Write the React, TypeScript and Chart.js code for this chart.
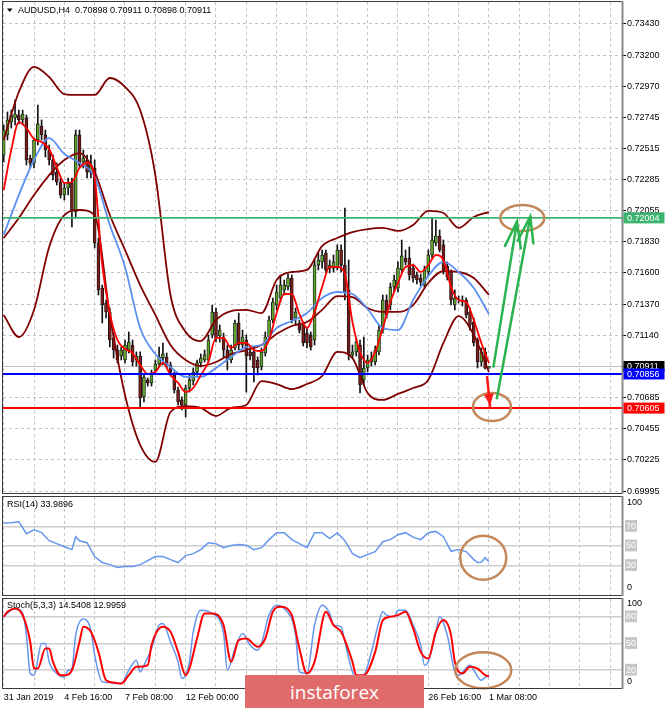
import React, { useEffect, useRef } from "react";
import { Chart, registerables } from "chart.js";

Chart.register(...registerables);

const FONT = '"Liberation Sans", Arial, sans-serif';
const SYMBOL = "AUDUSD";
const TIMEFRAME = "H4";

// ---------- candles (H4 bars from 31 Jan 2019 00:00) ----------
const opens = [
  0.72466, 0.72614, 0.72709, 0.72739, 0.72761, 0.72724, 0.72739, 0.72444, 0.72408, 0.72577,
  0.7268, 0.72614, 0.72503, 0.7243, 0.72341, 0.72268, 0.72172, 0.72224, 0.72261, 0.72047,
  0.72614, 0.72415, 0.7243, 0.72341, 0.72371, 0.71819, 0.71488, 0.71378, 0.71312, 0.71121,
  0.71032, 0.70988, 0.70959, 0.71032, 0.71069, 0.70959, 0.70988, 0.70687, 0.70812, 0.7079,
  0.70885, 0.70929, 0.70973, 0.70981, 0.70922, 0.70848, 0.70738, 0.70665, 0.70628, 0.70753,
  0.70804, 0.7087, 0.70937, 0.70959, 0.70959, 0.71143, 0.71312, 0.71135, 0.71128, 0.71032,
  0.70959, 0.71047, 0.71231, 0.71069, 0.71106, 0.71018, 0.71018, 0.70959, 0.70907, 0.7101,
  0.71128, 0.71253, 0.71363, 0.71415, 0.71474, 0.71496, 0.71562, 0.71268, 0.71231, 0.71216,
  0.71157, 0.71143, 0.71106, 0.71657, 0.7168, 0.71746, 0.71635, 0.71635, 0.71635, 0.71768,
  0.71657, 0.71474, 0.70996, 0.71018, 0.71069, 0.70812, 0.709, 0.70944, 0.70944, 0.71018,
  0.71179, 0.714, 0.71363, 0.71496, 0.71488, 0.71621, 0.71709, 0.71709, 0.71635, 0.71584,
  0.71562, 0.7151, 0.71606, 0.71731, 0.71819, 0.71871, 0.71805, 0.7165, 0.71606, 0.71363,
  0.714, 0.714, 0.714, 0.71312, 0.71238, 0.71106, 0.70944, 0.71018, 0.70898,
];
const highs = [
  0.72687, 0.72783, 0.72797, 0.72871, 0.72797, 0.72797, 0.72761, 0.72466, 0.72591, 0.72834,
  0.72724, 0.7265, 0.7254, 0.72466, 0.72408, 0.72297, 0.72261, 0.72297, 0.72297, 0.7265,
  0.7265, 0.72503, 0.72466, 0.72466, 0.7243, 0.71856, 0.7151, 0.714, 0.71341, 0.71157,
  0.71069, 0.71054, 0.71106, 0.71165, 0.71106, 0.71018, 0.71018, 0.70848, 0.70826, 0.70885,
  0.70959, 0.71054, 0.71084, 0.7101, 0.70944, 0.7087, 0.7076, 0.70687, 0.70775, 0.70848,
  0.709, 0.70959, 0.71003, 0.71032, 0.71143, 0.71363, 0.71341, 0.71216, 0.71157, 0.71069,
  0.71069, 0.71253, 0.71304, 0.71179, 0.71143, 0.71047, 0.71047, 0.70981, 0.71047, 0.71165,
  0.71282, 0.71415, 0.7151, 0.71584, 0.71547, 0.71591, 0.71584, 0.71341, 0.71253, 0.71238,
  0.71194, 0.71165, 0.71694, 0.71746, 0.71768, 0.71768, 0.71694, 0.71731, 0.71805, 0.71805,
  0.72077, 0.71694, 0.71069, 0.71121, 0.71106, 0.71128, 0.70996, 0.71018, 0.71062, 0.71216,
  0.71437, 0.71437, 0.71525, 0.71584, 0.7168, 0.71841, 0.71768, 0.7179, 0.71665, 0.71606,
  0.71591, 0.7165, 0.71768, 0.72003, 0.71988, 0.71915, 0.71841, 0.7168, 0.71621, 0.71474,
  0.7143, 0.7143, 0.71415, 0.71341, 0.71268, 0.71121, 0.71047, 0.71047, 0.70911,
];
const lows = [
  0.72415, 0.72577, 0.72665, 0.72687, 0.72695, 0.72695, 0.72393, 0.72371, 0.72371, 0.7254,
  0.72577, 0.72452, 0.72393, 0.72283, 0.72246, 0.7215, 0.72135, 0.72172, 0.71937, 0.72003,
  0.72371, 0.72371, 0.72297, 0.72297, 0.71783, 0.71437, 0.71231, 0.71268, 0.71054, 0.70973,
  0.70937, 0.70959, 0.70937, 0.7101, 0.70915, 0.70915, 0.70613, 0.7065, 0.70767, 0.70767,
  0.7087, 0.70907, 0.70922, 0.709, 0.70841, 0.70716, 0.70628, 0.70591, 0.7054, 0.70723,
  0.70775, 0.70848, 0.70907, 0.70944, 0.70944, 0.71121, 0.71091, 0.71091, 0.70981, 0.70885,
  0.70937, 0.71032, 0.71032, 0.71047, 0.70723, 0.70959, 0.70797, 0.70848, 0.70885, 0.70988,
  0.71106, 0.71231, 0.71327, 0.71385, 0.71437, 0.71474, 0.71231, 0.71216, 0.71157, 0.71062,
  0.71047, 0.71032, 0.71069, 0.71621, 0.71635, 0.71599, 0.71599, 0.71606, 0.71621, 0.71606,
  0.714, 0.70959, 0.70973, 0.70988, 0.70716, 0.70775, 0.7087, 0.70915, 0.70922, 0.70996,
  0.71157, 0.71268, 0.71327, 0.71459, 0.71459, 0.71599, 0.71657, 0.71547, 0.71532, 0.71518,
  0.71503, 0.71488, 0.71577, 0.71709, 0.71797, 0.71753, 0.71591, 0.71547, 0.71363, 0.71327,
  0.71378, 0.71356, 0.71268, 0.71179, 0.71062, 0.709, 0.70915, 0.70893, 0.70898,
];
const closes = [
  0.7265, 0.72724, 0.72761, 0.72768, 0.72724, 0.72768, 0.7243, 0.72408, 0.72577, 0.72695,
  0.72614, 0.72503, 0.7243, 0.72319, 0.72268, 0.72172, 0.72224, 0.72261, 0.72062, 0.72614,
  0.72393, 0.72444, 0.72341, 0.72393, 0.71819, 0.71474, 0.71363, 0.71312, 0.71106, 0.71032,
  0.70959, 0.71032, 0.71069, 0.71091, 0.70944, 0.70988, 0.70679, 0.70834, 0.7079, 0.70863,
  0.70929, 0.70981, 0.71003, 0.70922, 0.7087, 0.70738, 0.7065, 0.70628, 0.70753, 0.70812,
  0.7087, 0.70937, 0.70973, 0.70996, 0.71106, 0.71312, 0.71121, 0.71179, 0.71032, 0.70959,
  0.71032, 0.71231, 0.71069, 0.71128, 0.70988, 0.70988, 0.709, 0.709, 0.71018, 0.71128,
  0.71253, 0.71385, 0.71459, 0.7151, 0.7151, 0.71562, 0.71253, 0.71312, 0.71179, 0.71084,
  0.71084, 0.71054, 0.71657, 0.71694, 0.71731, 0.71621, 0.71657, 0.7168, 0.71768, 0.71657,
  0.71459, 0.70996, 0.71018, 0.71091, 0.70775, 0.709, 0.70959, 0.70973, 0.71032, 0.71179,
  0.714, 0.7129, 0.71496, 0.71547, 0.71635, 0.71724, 0.7168, 0.71584, 0.71562, 0.71547,
  0.71532, 0.71621, 0.71731, 0.71841, 0.71871, 0.71768, 0.71621, 0.71569, 0.714, 0.71415,
  0.71405, 0.71385, 0.7129, 0.71216, 0.71084, 0.70944, 0.71018, 0.70898, 0.70911,
];

// ---------- indicator lines on the price window ----------
const fastMaBars = [
  0, 2, 4, 6, 8, 10, 12, 14, 16, 18, 20, 22, 24, 26, 28, 30, 32, 34, 36, 38, 40, 42, 44, 46, 48, 50,
  52, 54, 56, 58, 60, 62, 64, 66, 68, 70, 72, 74, 76, 78, 80, 82, 84, 86, 88, 90, 92, 94, 96, 98, 100,
  102, 104, 106, 108, 110, 112, 114, 116, 118, 120, 122, 124, 126, 128,
];
const fastMa = [
  0.72209, 0.72503, 0.72709, 0.72665, 0.72584, 0.72562, 0.72511, 0.72378, 0.72261, 0.72268,
  0.72371, 0.72408, 0.72297, 0.71657, 0.71304, 0.71106, 0.7104, 0.7101, 0.70922, 0.70856,
  0.7087, 0.70937, 0.70848, 0.7079, 0.70723, 0.70753, 0.70848, 0.70944, 0.71121, 0.71121,
  0.71047, 0.71084, 0.71084, 0.71032, 0.71025, 0.71106, 0.71304, 0.71444, 0.71444, 0.71297,
  0.71194, 0.71312, 0.71496, 0.71643, 0.71643, 0.71591, 0.71238, 0.71018, 0.70937, 0.71018,
  0.71194, 0.71385, 0.71525, 0.71643, 0.71657, 0.71606, 0.71657, 0.71731, 0.71694, 0.71496,
  0.714, 0.71385, 0.71253, 0.71084, 0.70937,
];
const bandBars = [
  0, 4, 8, 12, 16, 20, 24, 28, 32, 36, 40, 44, 48, 52, 56, 60, 64, 68, 72, 76, 80, 84, 88, 92, 96,
  100, 104, 108, 112, 116, 120, 124, 128,
];
const slowMa = [
  0.71878, 0.72172, 0.7243, 0.72591, 0.72474, 0.72408, 0.72305, 0.71952, 0.71643, 0.71194,
  0.71003, 0.70907, 0.70834, 0.70834, 0.709, 0.70981, 0.71054, 0.71069, 0.71194, 0.71246,
  0.71304, 0.71415, 0.71459, 0.71444, 0.71334, 0.71194, 0.71179, 0.714, 0.71577, 0.7168,
  0.71606, 0.71488, 0.71297,
];
const bbUpper = [
  0.72577, 0.7293, 0.73114, 0.7304, 0.72915, 0.72908, 0.72908, 0.73033, 0.72967, 0.72797,
  0.72319, 0.71437, 0.71165, 0.71098, 0.71253, 0.71319, 0.71327, 0.71304, 0.71547, 0.71606,
  0.71621, 0.71797, 0.71856, 0.719, 0.71922, 0.7193, 0.71908, 0.71952, 0.72055, 0.7204,
  0.7193, 0.72011, 0.72047,
];
const bbMiddle = [
  0.71856, 0.72003, 0.72172, 0.72319, 0.7243, 0.72481, 0.72341, 0.72025, 0.71768, 0.7151,
  0.7129, 0.71069, 0.70959, 0.70915, 0.70944, 0.71003, 0.71032, 0.71069, 0.7115, 0.71209,
  0.71238, 0.71327, 0.71429, 0.71422, 0.71341, 0.71312, 0.71312, 0.71363, 0.71525, 0.71613,
  0.71606, 0.71562, 0.71437,
];
const bbLower = [
  0.7129, 0.71128, 0.71327, 0.7179, 0.72025, 0.72062, 0.72025, 0.7129, 0.70701, 0.70334,
  0.70209, 0.70576, 0.7062, 0.70606, 0.70547, 0.70606, 0.70628, 0.70804, 0.70782, 0.70745,
  0.70782, 0.70841, 0.71018, 0.70973, 0.70716, 0.70665, 0.70709, 0.70753, 0.70812, 0.71084,
  0.71282, 0.71143, 0.7087,
];

// horizontal levels drawn on the chart (green resistance, blue, red support)
const levelPrices = [0.72004, 0.70856, 0.70605];
const levelStyles = [
  { color: "#3cb46e", width: 1.8 },
  { color: "#0000ff", width: 2 },
  { color: "#ff0000", width: 2 },
];

// price axis tick labels
const priceTicks = [
  0.7343, 0.732, 0.7297, 0.72745, 0.72515, 0.72285, 0.72055, 0.7183, 0.716, 0.7137, 0.7114,
  0.7091, 0.70685, 0.70455, 0.70225, 0.69995,
];

// ---------- RSI(14) ----------
const rsiBars = [
  0, 2, 4, 6, 8, 10, 12, 14, 16, 18, 19, 20, 22, 24, 26, 28, 30, 32, 34, 36, 38, 40, 42, 44, 46, 48,
  50, 52, 54, 56, 58, 60, 62, 64, 66, 68, 70, 72, 74, 76, 78, 80, 82, 84, 86, 88, 90, 92, 94, 96, 98,
  100, 102, 104, 106, 108, 110, 112, 114, 116, 118, 120, 122, 124, 125, 126, 127, 128,
];
const rsiValues = [
  73.4, 73.8, 74.8, 62.6, 66.6, 63.6, 55.4, 52.4, 49.3, 46.3, 59.5, 55.4, 53.4, 39.2, 33.1, 31.0,
  28.0, 29.0, 29.0, 31.0, 35.1, 39.2, 39.2, 36.1, 33.1, 40.2, 42.2, 46.3, 53.4, 52.4, 48.3, 50.4,
  51.4, 50.9, 46.3, 48.3, 56.5, 63.6, 63.6, 56.5, 52.4, 48.3, 63.6, 63.6, 57.5, 63.6, 55.4, 42.2,
  38.1, 41.2, 44.3, 54.4, 56.5, 61.5, 63.6, 59.0, 56.5, 63.6, 64.9, 59.5, 44.6, 46.3, 44.3, 36.1,
  33.1, 33.4, 38.1, 33.9896,
];
const rsiLevels = [30, 50, 70];

// ---------- Stochastic(5,3,3) ----------
const stochMainBars = [
  0, 2, 3, 5, 6, 7, 8, 10, 11, 12, 14, 16, 17, 18, 19, 21, 23, 24, 26, 28, 29, 31, 33, 35, 36, 37,
  39, 41, 42, 44, 46, 47, 49, 50, 52, 55, 58, 59, 61, 63, 65, 67, 68, 70, 72, 74, 77, 78, 80, 82,
  84, 86, 87, 89, 90, 92, 93, 95, 97, 99, 100, 101, 103, 104, 106, 108, 110, 111, 112, 114, 115,
  117, 119, 120, 123, 124, 126, 127, 128,
];
const stochMain = [
  80, 87.5, 89.4, 83.8, 59.4, 16.3, 14.4, 50, 50, 29.4, 16.3, 12.5, 20, 22, 59.4, 77.4, 65, 36.9,
  6.9, 6.2, 5, 5, 20, 31.3, 18.1, 25.6, 44.4, 70.6, 72.5, 51.9, 29.4, 10.6, 29.4, 63.1, 87.5, 83.8,
  61.3, 20, 44.4, 61.3, 48.1, 42.5, 50, 81.9, 93.1, 89.4, 59.4, 18.1, 16.3, 70.6, 93.1, 83.8, 70.6,
  68.8, 51.9, 18.1, 12.5, 14.4, 40.6, 74.4, 85.6, 81.9, 80, 87.5, 87.5, 70.6, 48.1, 25.6, 29.4,
  63.1, 80, 59.4, 18.1, 14.4, 25.6, 20, 8.8, 12, 14.5408,
];
const stochSignalBars = [
  0, 1, 3, 5, 7, 8, 9, 11, 12, 13, 15, 16, 18, 20, 21, 23, 25, 27, 29, 31, 33, 35, 38, 39, 42, 44,
  46, 48, 49, 51, 53, 55, 58, 60, 62, 64, 67, 69, 71, 73, 76, 78, 80, 82, 85, 87, 89, 92, 93, 95,
  98, 100, 102, 104, 106, 108, 110, 112, 114, 116, 118, 119, 121, 123, 125, 127, 128,
];
const stochSignal = [
  80, 85.6, 89.4, 81.9, 51.9, 22, 22, 44.4, 44.4, 29.4, 14.4, 14.4, 20, 51.9, 68.8, 63.1, 40.6,
  8.8, 6.2, 5, 14.4, 23.8, 25.6, 48.1, 68.8, 63.1, 40.6, 14.4, 21.9, 55.6, 83.8, 83.8, 70.6, 29.4,
  53.8, 55.6, 46.3, 55.6, 85.6, 91.3, 81.9, 44.4, 16.3, 29.4, 85.6, 70.6, 63.1, 29.4, 14.4, 14.4,
  40.6, 76.3, 80, 81.9, 85.6, 66.9, 40.6, 33.1, 63.1, 76.3, 59.4, 29.4, 16.3, 23.8, 21.9, 14.4,
  12.9959,
];
const stochLevels = [20, 50, 80];

// ---------- time axis ----------
const gridBars = [0, 8, 16, 24, 32, 40, 48, 56, 64, 72, 80, 88, 96, 104, 112, 120, 128, 136, 144, 152, 160];
const dateTickBars = [0, 16, 32, 48, 64, 80, 96, 112, 128];
const dateTickLabels = [
  "31 Jan 2019", "4 Feb 16:00", "7 Feb 08:00", "12 Feb 00:00", "14 Feb 16:00",
  "19 Feb 08:00", "22 Feb 00:00", "26 Feb 16:00", "1 Mar 08:00",
];

// ---------- hand-drawn annotations (in bar / price units) ----------
const targetArrows = [
  { fromBar: 129.2, fromPrice: 0.7091, toBar: 135.4, toPrice: 0.71976 },
  { fromBar: 130.1, fromPrice: 0.70677, toBar: 138.9, toPrice: 0.72013 },
];
const dropArrow = { fromBar: 127.5, fromPrice: 0.70834, toBar: 128.3, toPrice: 0.7062 };
const priceCircles = [
  { bar: 136.8, price: 0.72003, rx: 22, ry: 13 },
  { bar: 128.8, price: 0.70613, rx: 19, ry: 14 },
];
const rsiCircle = { bar: 126.5, value: 38, rx: 23, ry: 22 };
const stochCircle = { bar: 126.5, value: 20, rx: 28, ry: 18 };

// ---------- view ranges ----------
const X_MIN = -0.18;
const X_MAX = 163.1;
const PRICE_MIN = 0.699805;
const PRICE_MAX = 0.735918;

const BULL = "#5fa22c";
const BEAR = "#7a1c1c";
const GRID = "#c4c4c4";
const CIRCLE = "#c3875a";

const pts = (bars: number[], vals: number[]) => bars.map((b, i) => ({ x: b, y: vals[i] }));

const zeroPad = (s: any) => {
  s.paddingTop = 0;
  s.paddingBottom = 0;
  s.paddingLeft = 0;
  s.paddingRight = 0;
};

const framePlugin = {
  id: "frame",
  afterDraw(chart: any) {
    const { ctx, chartArea: a } = chart;
    ctx.save();
    ctx.strokeStyle = "#3a3a3a";
    ctx.lineWidth = 1;
    ctx.strokeRect(a.left - 0.5, a.top - 0.5, a.right - a.left + 1, a.bottom - a.top + 1);
    ctx.strokeStyle = "#8a8a8a";
    ctx.lineWidth = 2;
    ctx.beginPath();
    ctx.moveTo(a.right + 0.5, a.top - 1);
    ctx.lineTo(a.right + 0.5, a.bottom + 1);
    ctx.stroke();
    ctx.restore();
  },
};

const titlePlugin = (getText: () => string, dy: number, triangle: boolean) => ({
  id: "title",
  afterDraw(chart: any) {
    const { ctx, chartArea: a } = chart;
    ctx.save();
    ctx.fillStyle = "#000";
    ctx.font = `9px ${FONT}`;
    ctx.textBaseline = "middle";
    let x = a.left + 4;
    if (triangle) {
      ctx.beginPath();
      ctx.moveTo(a.left + 4, a.top + dy - 2);
      ctx.lineTo(a.left + 9.5, a.top + dy - 2);
      ctx.lineTo(a.left + 6.75, a.top + dy + 1.5);
      ctx.closePath();
      ctx.fill();
      x = a.left + 15;
    }
    ctx.fillText(getText(), x, a.top + dy);
    ctx.restore();
  },
});

const edgeLabelPlugin = (topOff: number, botOff: number) => ({
  id: "edgeLabels",
  afterDraw(chart: any) {
    const { ctx, chartArea: a } = chart;
    const y = chart.scales.y;
    ctx.save();
    ctx.fillStyle = "#000";
    ctx.font = `9px ${FONT}`;
    ctx.textBaseline = "middle";
    ctx.fillText(String(y.max), a.right + 5, y.getPixelForValue(y.max) + topOff);
    ctx.fillText(String(y.min), a.right + 5, y.getPixelForValue(y.min) - botOff);
    ctx.restore();
  },
});

const ellipsePlugin = (bar: number, value: number, rx: number, ry: number) => ({
  id: "ellipse",
  afterDatasetsDraw(chart: any) {
    const { ctx } = chart;
    const cx = chart.scales.x.getPixelForValue(bar);
    const cy = chart.scales.y.getPixelForValue(value);
    ctx.save();
    ctx.strokeStyle = CIRCLE;
    ctx.lineWidth = 2.5;
    ctx.beginPath();
    ctx.ellipse(cx, cy, rx, ry, 0, 0, Math.PI * 2);
    ctx.stroke();
    ctx.restore();
  },
});

const priceTagPlugin = {
  id: "priceTags",
  afterDraw(chart: any) {
    const { ctx, chartArea: a } = chart;
    const y = chart.scales.y;
    const tags = [
      { value: closes[closes.length - 1], bg: "#000000" },
      { value: levelPrices[1], bg: levelStyles[1].color },
      { value: levelPrices[2], bg: levelStyles[2].color },
      { value: levelPrices[0], bg: levelStyles[0].color },
    ];
    ctx.save();
    ctx.font = `9px ${FONT}`;
    ctx.textBaseline = "middle";
    tags.forEach((t) => {
      const py = y.getPixelForValue(t.value);
      ctx.fillStyle = t.bg;
      ctx.fillRect(a.right + 1.5, py - 5.5, 41, 11);
      ctx.fillStyle = "#ffffff";
      ctx.fillText(t.value.toFixed(5), a.right + 5, py + 0.5);
    });
    ctx.restore();
  },
};

const annotationPlugin = {
  id: "annotations",
  afterDatasetsDraw(chart: any) {
    const { ctx } = chart;
    const xs = chart.scales.x;
    const ys = chart.scales.y;
    ctx.save();
    ctx.strokeStyle = CIRCLE;
    ctx.lineWidth = 2.5;
    priceCircles.forEach((c) => {
      ctx.beginPath();
      ctx.ellipse(xs.getPixelForValue(c.bar), ys.getPixelForValue(c.price), c.rx, c.ry, 0, 0, Math.PI * 2);
      ctx.stroke();
    });
    ctx.strokeStyle = "#2bb34f";
    ctx.lineWidth = 2.5;
    ctx.lineCap = "round";
    targetArrows.forEach((ar) => {
      const x1 = xs.getPixelForValue(ar.fromBar);
      const y1 = ys.getPixelForValue(ar.fromPrice);
      const x2 = xs.getPixelForValue(ar.toBar);
      const y2 = ys.getPixelForValue(ar.toPrice);
      ctx.beginPath();
      ctx.moveTo(x1, y1);
      ctx.lineTo(x2, y2);
      ctx.stroke();
      const back = Math.atan2(y1 - y2, x1 - x2);
      const hl = 27;
      const ha = 0.3;
      ctx.beginPath();
      ctx.moveTo(x2 + hl * Math.cos(back - ha), y2 + hl * Math.sin(back - ha));
      ctx.lineTo(x2, y2);
      ctx.lineTo(x2 + hl * Math.cos(back + ha), y2 + hl * Math.sin(back + ha));
      ctx.stroke();
    });
    {
      const x1 = xs.getPixelForValue(dropArrow.fromBar);
      const y1 = ys.getPixelForValue(dropArrow.fromPrice);
      const x2 = xs.getPixelForValue(dropArrow.toBar);
      const y2 = ys.getPixelForValue(dropArrow.toPrice);
      ctx.strokeStyle = "#ff1a1a";
      ctx.fillStyle = "#ff1a1a";
      ctx.lineWidth = 2.5;
      ctx.beginPath();
      ctx.moveTo(x1, y1);
      ctx.lineTo(x2, y2);
      ctx.stroke();
      const back = Math.atan2(y1 - y2, x1 - x2);
      const hl = 13;
      const ha = 0.38;
      ctx.beginPath();
      ctx.moveTo(x2, y2);
      ctx.lineTo(x2 + hl * Math.cos(back - ha), y2 + hl * Math.sin(back - ha));
      ctx.lineTo(x2 + hl * Math.cos(back + ha), y2 + hl * Math.sin(back + ha));
      ctx.closePath();
      ctx.fill();
    }
    ctx.restore();
  },
};

const timeX = (height: number, labels: boolean) => ({
  type: "linear",
  min: X_MIN,
  max: X_MAX,
  offset: false,
  afterBuildTicks: (s: any) => {
    s.ticks = gridBars.map((v) => ({ value: v }));
  },
  afterFit: (s: any) => {
    s.height = height;
    zeroPad(s);
  },
  grid: { color: GRID, lineWidth: 1, drawTicks: false, offset: false },
  border: { display: false, dash: [3, 3] },
  ticks: labels
    ? {
        display: true,
        autoSkip: false,
        maxRotation: 0,
        minRotation: 0,
        align: "start",
        padding: 4,
        color: "#000",
        font: { family: FONT, size: 9 },
        callback: (v: any) => {
          const k = dateTickBars.indexOf(Number(v));
          return k >= 0 ? dateTickLabels[k] : "";
        },
      }
    : { display: false },
});

const levelY = (levels: number[]) => ({
  type: "linear",
  position: "right",
  min: 0,
  max: 100,
  afterBuildTicks: (s: any) => {
    s.ticks = levels.map((v) => ({ value: v }));
  },
  afterFit: (s: any) => {
    s.width = 43;
    zeroPad(s);
  },
  grid: { color: "#cdcdcd", lineWidth: 1.5, drawTicks: false },
  border: { display: false, dash: [] },
  ticks: {
    color: "#ffffff",
    font: { family: FONT, size: 9 },
    padding: 4,
    autoSkip: false,
    showLabelBackdrop: true,
    backdropColor: "#c6c6c6",
    backdropPadding: { top: 1, bottom: 0, left: 1, right: 1 },
  },
});

function mainConfig(): any {
  const idx = opens.map((_, i) => i);
  const lastO = opens[opens.length - 1];
  const lastH = highs[highs.length - 1];
  const lastL = lows[lows.length - 1];
  const lastC = closes[closes.length - 1];
  const line = (data: any[], color: string, width: number, order: number, smooth = true) => ({
    type: "line",
    data,
    borderColor: color,
    borderWidth: width,
    pointRadius: 0,
    fill: false,
    cubicInterpolationMode: smooth ? "monotone" : "default",
    tension: 0,
    order,
  });
  const levelDatasets = levelPrices.map((p, k) =>
    line([{ x: X_MIN, y: p }, { x: X_MAX, y: p }], levelStyles[k].color, levelStyles[k].width, 1, false)
  );
  return {
    type: "bar",
    data: {
      datasets: [
        ...levelDatasets,
        line(pts(fastMaBars, fastMa), "#ff0000", 1.8, 2),
        line(pts(bandBars, slowMa), "#5b8ff0", 1.8, 3),
        line(pts(bandBars, bbUpper), "#800000", 1.8, 4),
        line(pts(bandBars, bbMiddle), "#800000", 1.8, 4),
        line(pts(bandBars, bbLower), "#800000", 1.8, 4),
        {
          type: "bar",
          data: idx.map((i) => ({ x: i, y: [opens[i], closes[i]] })),
          backgroundColor: idx.map((i) => (closes[i] >= opens[i] ? BULL : BEAR)),
          borderColor: "#111111",
          borderWidth: 0.8,
          borderSkipped: false,
          barThickness: 3,
          minBarLength: 1,
          grouped: false,
          order: 5,
        },
        {
          type: "bar",
          data: idx.map((i) => ({ x: i, y: [lows[i], highs[i]] })),
          backgroundColor: "#111111",
          borderWidth: 0,
          barThickness: 1,
          grouped: false,
          order: 6,
        },
        line([{ x: X_MIN, y: lastC }, { x: X_MAX, y: lastC }], "#c0c0c0", 1.2, 7, false),
      ],
    },
    options: {
      animation: false,
      responsive: false,
      events: [],
      layout: { padding: { left: 3, top: 2, bottom: 2, right: 0 } },
      plugins: { legend: { display: false }, tooltip: { enabled: false } },
      scales: {
        x: timeX(0, false),
        y: {
          type: "linear",
          position: "right",
          min: PRICE_MIN,
          max: PRICE_MAX,
          afterBuildTicks: (s: any) => {
            s.ticks = priceTicks.map((v) => ({ value: v }));
          },
          afterFit: (s: any) => {
            s.width = 43;
            zeroPad(s);
          },
          grid: {
            color: GRID,
            lineWidth: 1,
            drawTicks: true,
            tickLength: 4,
            tickColor: "#000",
            tickWidth: 1,
            tickBorderDash: [],
          },
          border: { display: false, dash: [3, 3] },
          ticks: {
            autoSkip: false,
            color: "#000",
            padding: 1,
            font: { family: FONT, size: 9 },
            callback: (v: any) => Number(v).toFixed(5),
          },
        },
      },
    },
    plugins: [
      annotationPlugin,
      framePlugin,
      titlePlugin(
        () =>
          `${SYMBOL},${TIMEFRAME}  ${lastO.toFixed(5)} ${lastH.toFixed(5)} ${lastL.toFixed(5)} ${lastC.toFixed(5)}`,
        8.5,
        true
      ),
      priceTagPlugin,
    ],
  };
}

function rsiConfig(): any {
  return {
    type: "line",
    data: {
      datasets: [
        {
          data: pts(rsiBars, rsiValues),
          borderColor: "#6495ed",
          borderWidth: 1.5,
          pointRadius: 0,
          tension: 0,
          fill: false,
        },
      ],
    },
    options: {
      animation: false,
      responsive: false,
      events: [],
      layout: { padding: { left: 3, top: 2, bottom: 2, right: 0 } },
      plugins: { legend: { display: false }, tooltip: { enabled: false } },
      scales: { x: timeX(0, false), y: levelY(rsiLevels) },
    },
    plugins: [
      ellipsePlugin(rsiCircle.bar, rsiCircle.value, rsiCircle.rx, rsiCircle.ry),
      framePlugin,
      edgeLabelPlugin(6, 7),
      titlePlugin(() => `RSI(14) ${rsiValues[rsiValues.length - 1].toFixed(4)}`, 8, false),
    ],
  };
}

function stochConfig(): any {
  return {
    type: "line",
    data: {
      datasets: [
        {
          data: pts(stochSignalBars, stochSignal),
          borderColor: "#ff0000",
          borderWidth: 2,
          pointRadius: 0,
          cubicInterpolationMode: "monotone",
          fill: false,
          order: 1,
        },
        {
          data: pts(stochMainBars, stochMain),
          borderColor: "#6495ed",
          borderWidth: 1.5,
          pointRadius: 0,
          cubicInterpolationMode: "monotone",
          fill: false,
          order: 2,
        },
      ],
    },
    options: {
      animation: false,
      responsive: false,
      events: [],
      layout: { padding: { left: 3, top: 2, bottom: 0, right: 0 } },
      plugins: { legend: { display: false }, tooltip: { enabled: false } },
      scales: { x: timeX(20, true), y: levelY(stochLevels) },
    },
    plugins: [
      ellipsePlugin(stochCircle.bar, stochCircle.value, stochCircle.rx, stochCircle.ry),
      framePlugin,
      edgeLabelPlugin(5, 6),
      titlePlugin(
        () =>
          `Stoch(5,3,3) ${stochMain[stochMain.length - 1].toFixed(4)} ${stochSignal[stochSignal.length - 1].toFixed(4)}`,
        7,
        false
      ),
    ],
  };
}

export default function App() {
  const mainRef = useRef<HTMLCanvasElement>(null);
  const rsiRef = useRef<HTMLCanvasElement>(null);
  const stochRef = useRef<HTMLCanvasElement>(null);

  useEffect(() => {
    const charts = [
      new Chart(mainRef.current as HTMLCanvasElement, mainConfig()),
      new Chart(rsiRef.current as HTMLCanvasElement, rsiConfig()),
      new Chart(stochRef.current as HTMLCanvasElement, stochConfig()),
    ];
    return () => charts.forEach((c) => c.destroy());
  }, []);

  return (
    <div
      style={{
        position: "fixed",
        left: 0,
        top: 0,
        width: 665,
        height: 708,
        background: "#ffffff",
        overflow: "hidden",
      }}
    >
      <canvas
        ref={mainRef}
        width={665}
        height={495}
        style={{ position: "absolute", left: 0, top: 0, width: 665, height: 495 }}
      />
      <canvas
        ref={rsiRef}
        width={665}
        height={102}
        style={{ position: "absolute", left: 0, top: 495, width: 665, height: 102 }}
      />
      <canvas
        ref={stochRef}
        width={665}
        height={111}
        style={{ position: "absolute", left: 0, top: 597, width: 665, height: 111 }}
      />
      <div
        style={{
          position: "absolute",
          left: 245,
          top: 675,
          width: 179,
          height: 33,
          background: "#e06b6b",
          color: "#ffffff",
          fontFamily: '"Open Sans", sans-serif',
          fontSize: 19,
          display: "flex",
          alignItems: "center",
          justifyContent: "center",
        }}
      >
        instaforex
      </div>
    </div>
  );
}
